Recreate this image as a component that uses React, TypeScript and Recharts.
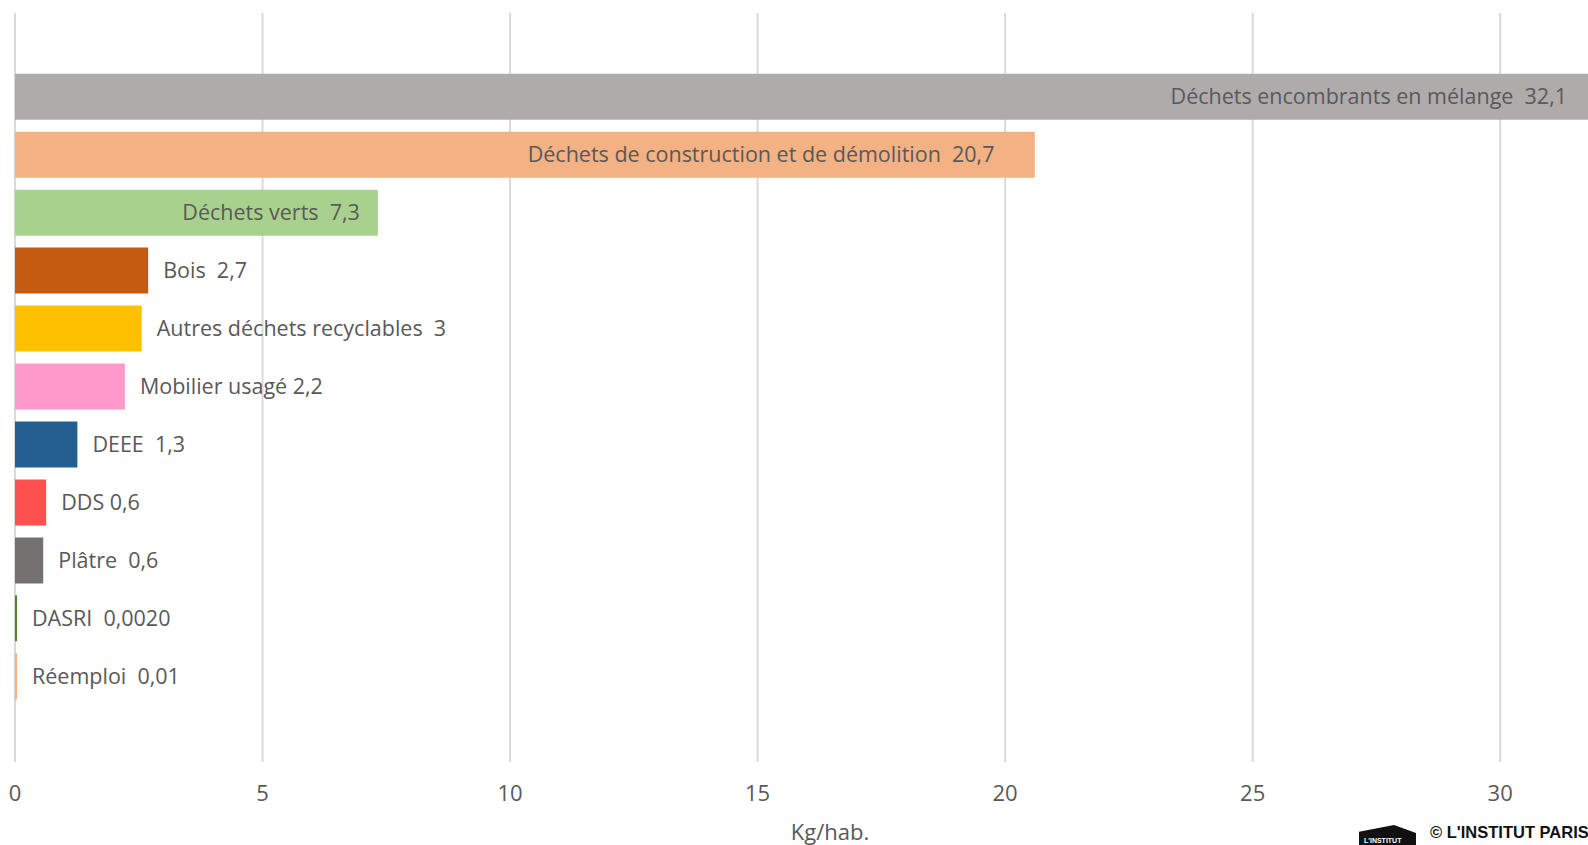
import React from 'react';
import { BarChart, Bar, XAxis, YAxis, CartesianGrid, Cell, LabelList, Label } from 'recharts';

const categories = [
  'Déchets encombrants en mélange',
  'Déchets de construction et de démolition',
  'Déchets verts',
  'Bois',
  'Autres déchets recyclables',
  'Mobilier usagé',
  'DEEE',
  'DDS',
  'Plâtre',
  'DASRI',
  'Réemploi',
];
const values = [32.1, 20.6, 7.33, 2.69, 2.56, 2.22, 1.26, 0.63, 0.57, 0.002, 0.01];
const labels = [
  'Déchets encombrants en mélange  32,1',
  'Déchets de construction et de démolition  20,7    ',
  'Déchets verts  7,3',
  'Bois  2,7',
  'Autres déchets recyclables  3',
  'Mobilier usagé 2,2',
  'DEEE  1,3',
  'DDS 0,6',
  'Plâtre  0,6',
  'DASRI  0,0020',
  'Réemploi  0,01',
];
const colors = [
  '#AFABAB', '#F4B183', '#A9D18E', '#C55A11', '#FFC000', '#FF99CC',
  '#255E91', '#FF5050', '#767171', '#548235', '#F4B183',
];
const xTicks = [0, 5, 10, 15, 20, 25, 30];
const xMax = 32.42;
const axisTitle = 'Kg/hab.';

const data = categories.map((name, i) => ({ name, value: values[i], label: labels[i] }));

const VIEW_W = 1588;
const W = 1620;
const H = 845;
const MARGIN = { top: 13, right: 0, bottom: 8, left: 15 };
const VISIBLE_RIGHT = VIEW_W - 3;
const FONT = '"Open Sans", sans-serif';
const TEXT = '#595959';
const LABEL_FS = 21.5;

const renderLabel = (props: any) => {
  const vb = props.viewBox || {};
  const x = Number(props.x ?? vb.x);
  const y = Number(props.y ?? vb.y);
  const width = Number(props.width ?? vb.width);
  const height = Number(props.height ?? vb.height);
  const index = props.index;
  const v = values[index];
  const barEnd = x + width;
  const cy = y + height / 2;
  const inside = v >= 5;
  const tx = inside ? Math.min(barEnd, VISIBLE_RIGHT) - 18 : barEnd + 15;
  return (
    <text
      x={tx}
      y={cy}
      dy="0.36em"
      textAnchor={inside ? 'end' : 'start'}
      fill={TEXT}
      fontSize={LABEL_FS}
      fontFamily={FONT}
      style={{ whiteSpace: 'pre' }}
    >
      {labels[index]}
    </text>
  );
};

const renderAxisTitle = () => (
  <text x={830} y={840} textAnchor="middle" fill={TEXT} fontSize={22} fontFamily={FONT}>
    {axisTitle}
  </text>
);

export default function App() {
  return (
    <div
      style={{
        position: 'fixed',
        left: 0,
        top: 0,
        width: VIEW_W,
        height: H,
        overflow: 'hidden',
        fontFamily: FONT,
        background: '#fff',
      }}
    >
      <BarChart
        width={W}
        height={H}
        data={data}
        layout="vertical"
        margin={MARGIN}
        barSize={46}
      >
        <CartesianGrid horizontal={false} vertical stroke="#D9D9D9" strokeWidth={2} />
        <XAxis
          type="number"
          domain={[0, xMax]}
          ticks={xTicks}
          allowDataOverflow
          axisLine={false}
          tickLine={false}
          tickSize={0}
          tickMargin={23}
          height={75}
          interval={0}
          tick={{ fill: TEXT, fontSize: 22, fontFamily: FONT }}
        >
          <Label content={renderAxisTitle} />
        </XAxis>
        <YAxis
          type="category"
          dataKey="name"
          hide
          padding={{ top: 54.7, bottom: 56.7 }}
        />
        <Bar dataKey="value" isAnimationActive={false} minPointSize={2}>
          {data.map((d, i) => (
            <Cell key={d.name} fill={colors[i]} />
          ))}
          <LabelList dataKey="label" content={renderLabel} />
        </Bar>
      </BarChart>
      <svg
        style={{ position: 'absolute', left: 1348, top: 808 }}
        width={240}
        height={37}
      >
        <polygon points="11,23.7 46,17 68,25 68,37 11,37" fill="#111" />
        <text x={16} y={35} fill="#fff" fontSize={7} fontWeight="bold" fontFamily="'Liberation Sans', Arial, sans-serif">
          L'INSTITUT
        </text>
        <text x={82} y={30} fill="#111" fontSize={16.5} fontWeight="bold" fontFamily="'Liberation Sans', Arial, sans-serif">
          © L'INSTITUT PARIS
        </text>
      </svg>
    </div>
  );
}
